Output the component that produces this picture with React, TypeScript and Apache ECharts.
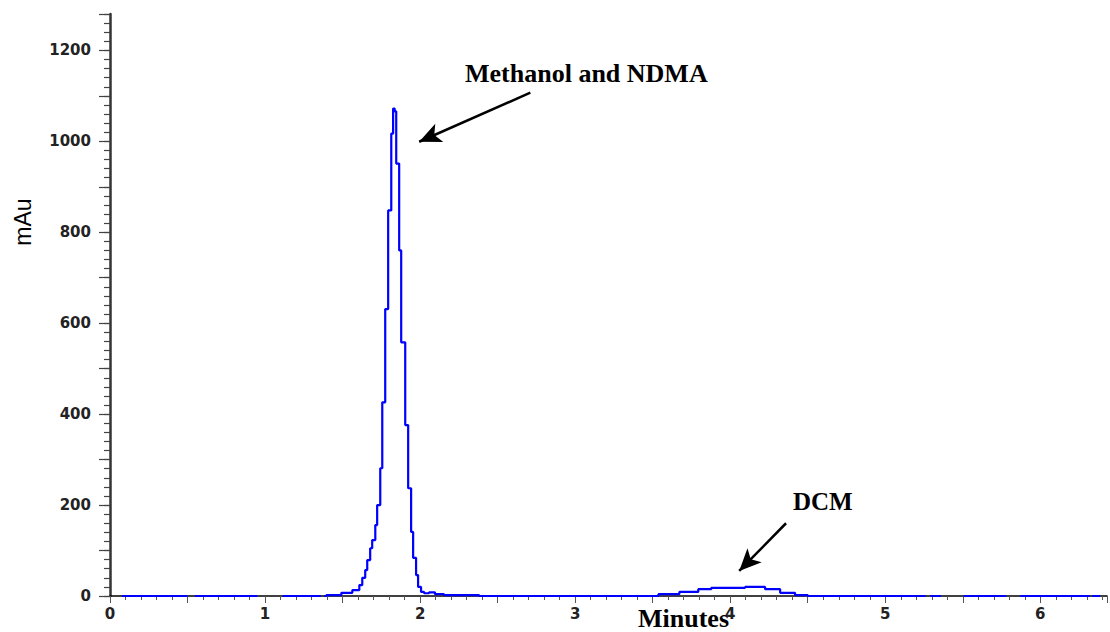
import React, { useEffect, useRef } from "react";
import * as echarts from "echarts";

// Retention time (minutes) and detector response (mAu); null marks a break in the trace.
const TIMES = [
  0.077, 0.482, 0.5, 0.547, 0.9, 0.95, 1.113, 1.331, 1.36, 1.38,
  1.396, 1.492, 1.563, 1.608, 1.627, 1.646, 1.659, 1.678, 1.691, 1.711,
  1.723, 1.743, 1.756, 1.775, 1.794, 1.814, 1.826, 1.836, 1.846, 1.865,
  1.878, 1.904, 1.923, 1.942, 1.955, 1.974, 1.987, 2.006, 2.026, 2.058,
  2.096, 2.154, 2.38, 3.537, 3.672, 3.794, 3.878, 4.096, 4.225, 4.322,
  4.418, 4.5, 5.241, 5.26, 5.29, 5.33, 5.36, 5.505, 5.756, 5.78,
  5.871, 6.302, 6.32, 6.334, 6.386,
];
const SIGNAL: (number | null)[] = [
  0, 0, null, 0, 0, null, 0, 0, null, 0,
  2, 7, 13, 24, 40, 57, 79, 105, 123, 156,
  200, 281, 426, 631, 848, 1017, 1072, 1066, 951, 760,
  558, 376, 237, 141, 84, 46, 20, 9, 6, 8,
  4, 2, 0, 4, 9, 15, 18, 20, 15, 7,
  2, 0, 0, null, 0, 0, null, 0, 0, null,
  0, 0, null, 0, 0,
];

const Y_LABELS = [0, 200, 400, 600, 800, 1000, 1200];
const X_LABELS = [0, 1, 2, 3, 4, 5, 6];

// Annotation arrows: [tail, head] in (minutes, mAu)
const ARROWS: [number, number][][] = [
  [[2.711, 1107], [1.994, 999]],
  [[4.36, 160], [4.058, 55]],
];

const Y_MAX = 1280;
const X_MAX = 6.43;

const tickFont = {
  fontFamily: "DejaVu Sans",
  fontSize: 15,
  fontWeight: "bold" as const,
  color: "#222",
};

export default function App() {
  const ref = useRef<HTMLDivElement>(null);

  useEffect(() => {
    if (!ref.current) return;
    const chart = echarts.init(ref.current, undefined, { renderer: "svg" });

    const data = TIMES.map((t, i) => [t, SIGNAL[i]]);
    const near = (v: number, list: number[]) =>
      list.some((l) => Math.abs(l - v) < 1e-6);

    chart.setOption({
      animation: false,
      backgroundColor: "#fff",
      grid: { left: 110, right: 0, top: 14, bottom: 36, containLabel: false },
      xAxis: [
        {
          type: "value",
          min: 0,
          max: X_MAX,
          interval: 0.1,
          axisLine: { show: true, lineStyle: { color: "#000", width: 1.5 } },
          axisTick: { show: true, length: 4, lineStyle: { color: "#555", width: 1 } },
          axisLabel: {
            ...tickFont,
            margin: 10,
            formatter: (v: number) => (near(v, X_LABELS) ? String(Math.round(v)) : ""),
          },
          splitLine: { show: false },
        },
        {
          type: "value",
          position: "bottom",
          min: 0,
          max: X_MAX,
          interval: 0.5,
          axisLine: { show: false },
          axisTick: { show: true, length: 7, lineStyle: { color: "#555", width: 1 } },
          axisLabel: { show: false },
          splitLine: { show: false },
        },
      ],
      yAxis: [
        {
          type: "value",
          min: 0,
          max: Y_MAX,
          interval: 20,
          axisLine: { show: true, lineStyle: { color: "#333", width: 2.5 } },
          axisTick: { show: true, length: 6, lineStyle: { color: "#444", width: 1.2 } },
          axisLabel: {
            ...tickFont,
            margin: 19,
            formatter: (v: number) => (near(v, Y_LABELS) ? String(v) : ""),
          },
          splitLine: { show: false },
        },
        {
          type: "value",
          position: "left",
          min: 0,
          max: Y_MAX,
          interval: 100,
          axisLine: { show: false },
          axisTick: { show: true, length: 11, lineStyle: { color: "#444", width: 1.2 } },
          axisLabel: { show: false },
          splitLine: { show: false },
        },
      ],
      series: [
        {
          type: "line",
          data,
          step: "end",
          showSymbol: false,
          connectNulls: false,
          lineStyle: { color: "#0000ff", width: 2.2 },
          itemStyle: { color: "#0000ff" },
          markLine: {
            silent: true,
            symbol: ["none", "arrow"],
            symbolSize: [15, 22],
            label: { show: false },
            lineStyle: { color: "#000", width: 2.5, type: "solid" },
            data: ARROWS.map(([a, b]) => [{ coord: a }, { coord: b }]),
          },
        },
      ],
      graphic: [
        {
          type: "text",
          x: 465,
          y: 73,
          style: {
            text: "Methanol and NDMA",
            font: "bold 26px 'Liberation Serif'",
            fill: "#000",
            textVerticalAlign: "middle",
          },
        },
        {
          type: "text",
          x: 793,
          y: 501,
          style: {
            text: "DCM",
            font: "bold 25px 'Liberation Serif'",
            fill: "#000",
            textVerticalAlign: "middle",
          },
        },
        {
          type: "text",
          x: 638,
          y: 618,
          style: {
            text: "Minutes",
            font: "bold 26px 'Liberation Serif'",
            fill: "#000",
            textVerticalAlign: "middle",
          },
        },
        {
          type: "text",
          x: 23,
          y: 222,
          rotation: Math.PI / 2,
          style: {
            text: "mAu",
            font: "23px 'Liberation Sans'",
            fill: "#000",
            textAlign: "center",
            textVerticalAlign: "middle",
          },
        },
      ],
    });

    return () => chart.dispose();
  }, []);

  return (
    <div
      ref={ref}
      style={{ position: "fixed", left: 0, top: 0, width: 1110, height: 632, background: "#fff" }}
    />
  );
}
